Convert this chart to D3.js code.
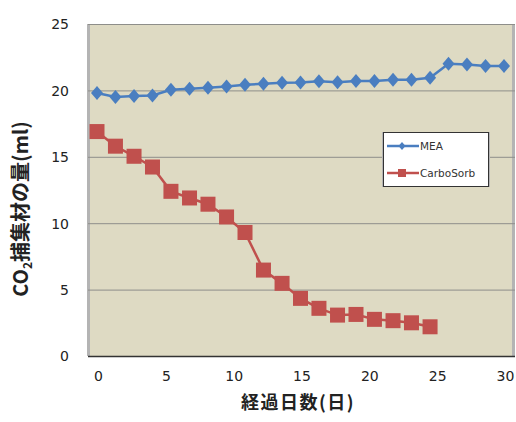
<!DOCTYPE html>
<html><head><meta charset="utf-8">
<script src="https://cdn.jsdelivr.net/npm/d3@7"></script>
<style>
html,body{margin:0;padding:0;background:#fff;}
svg{display:block;}
</style>
</head><body>
<svg id="c" width="516" height="422"></svg>
<script>
// ---- data ----
const meaDays = [0, 1.36, 2.73, 4.09, 5.45, 6.82, 8.18, 9.55, 10.91, 12.27, 13.64, 15.0, 16.36, 17.73, 19.09, 20.45, 21.82, 23.18, 24.55, 25.91, 27.27, 28.64, 30.0];
const meaValues = [19.8, 19.5, 19.57, 19.62, 20.05, 20.13, 20.2, 20.3, 20.43, 20.5, 20.58, 20.6, 20.68, 20.62, 20.7, 20.7, 20.8, 20.8, 20.95, 22.0, 21.95, 21.83, 21.83];
const carboDays = [0, 1.36, 2.73, 4.09, 5.45, 6.82, 8.18, 9.55, 10.91, 12.27, 13.64, 15.0, 16.36, 17.73, 19.09, 20.45, 21.82, 23.18, 24.55];
const carboValues = [16.9, 15.8, 15.04, 14.23, 12.4, 11.9, 11.43, 10.47, 9.3, 6.47, 5.47, 4.34, 3.59, 3.08, 3.13, 2.76, 2.66, 2.5, 2.2];
const xTicks = [0, 5, 10, 15, 20, 25, 30];
const yTicks = [0, 5, 10, 15, 20, 25];
const seriesNames = ["MEA", "CarboSorb"];
const xTitle = "経過日数(日)";

const svg = d3.select("#c");
const plot = {left: 88, right: 515, top: 24, bottom: 356};
const x = d3.scaleLinear().domain([0, 30]).range([97, 504]);
const y = d3.scaleLinear().domain([0, 25]).range([plot.bottom, plot.top]);

// plot background
svg.append("rect").attr("x", plot.left).attr("y", plot.top)
  .attr("width", plot.right - plot.left).attr("height", plot.bottom - plot.top)
  .attr("fill", "#DEDAC3");
svg.append("rect").attr("x", plot.left - 1).attr("y", plot.top).attr("width", 3).attr("height", plot.bottom - plot.top).attr("fill", "#b4b4b4");
svg.append("rect").attr("x", plot.right - 3).attr("y", plot.top).attr("width", 3).attr("height", plot.bottom - plot.top).attr("fill", "#b4b4b4");

// gridlines
svg.append("g").selectAll("line").data(yTicks.filter(d => d > 0)).join("line")
  .attr("x1", plot.left).attr("x2", plot.right)
  .attr("y1", d => y(d) + 0.5).attr("y2", d => y(d) + 0.5)
  .attr("stroke", "#8e8e8a").attr("stroke-width", 1);

// bottom axis line
svg.append("line").attr("x1", plot.left).attr("x2", plot.right)
  .attr("y1", plot.bottom + 0.5).attr("y2", plot.bottom + 0.5)
  .attr("stroke", "#333").attr("stroke-width", 1.5);

// y axis labels
const yAxis = d3.axisLeft(y).tickValues(yTicks).tickSize(0).tickPadding(0).tickFormat(d3.format("d"));
const gy = svg.append("g").attr("transform", "translate(69,0)").call(yAxis);
gy.select(".domain").remove();
gy.selectAll("text").attr("font-family", "DejaVu Sans, sans-serif").attr("font-size", 14).attr("fill", "#222").attr("dy", "0.35em");

// x axis labels
const xAxis = d3.axisBottom(x).tickValues(xTicks).tickSize(0).tickPadding(0).tickFormat(d3.format("d"));
const gx = svg.append("g").attr("transform", "translate(1,371)").call(xAxis);
gx.select(".domain").remove();
gx.selectAll("text").attr("font-family", "DejaVu Sans, sans-serif").attr("font-size", 14).attr("fill", "#222").attr("dy", "0.71em");

// titles
svg.append("text").attr("x", 298).attr("y", 409).attr("text-anchor", "middle")
  .attr("font-family", "Noto Sans CJK JP, sans-serif").attr("font-weight", "bold")
  .attr("font-size", 18).attr("letter-spacing", 1.5).attr("fill", "#222").text(xTitle);

const yt = svg.append("text").attr("transform", "translate(28,209) rotate(-90)").attr("text-anchor", "middle")
  .attr("font-family", "Noto Sans CJK JP, sans-serif").attr("font-weight", "bold")
  .attr("font-size", 20).attr("fill", "#222");
yt.append("tspan").text("CO");
yt.append("tspan").attr("font-size", 12).attr("dy", 4).text("2");
yt.append("tspan").attr("dy", -4).text("捕集材の量(ml)");

// series
const blue = "#4A7EC0", red = "#C0504D";
const mea = meaDays.map((d, i) => [d, meaValues[i]]);
const carbo = carboDays.map((d, i) => [d, carboValues[i]]);
const line = d3.line().x(d => x(d[0])).y(d => y(d[1]));

svg.append("path").datum(carbo).attr("d", line).attr("fill", "none").attr("stroke", red).attr("stroke-width", 2.5);
svg.append("g").selectAll("rect").data(carbo).join("rect")
  .attr("x", d => x(d[0]) - 7.5).attr("y", d => y(d[1]) - 7.5)
  .attr("width", 15).attr("height", 15).attr("fill", red);

svg.append("path").datum(mea).attr("d", line).attr("fill", "none").attr("stroke", blue).attr("stroke-width", 2.5);
const diamond = "M0,-7L6,0L0,7L-6,0Z";
svg.append("g").selectAll("path").data(mea).join("path")
  .attr("transform", d => `translate(${x(d[0])},${y(d[1])})`)
  .attr("d", diamond).attr("fill", blue);

// legend
const lg = svg.append("g");
lg.append("rect").attr("x", 382).attr("y", 132).attr("width", 3).attr("height", 55).attr("fill", "#b4b4b4");
lg.append("rect").attr("x", 487).attr("y", 132).attr("width", 3).attr("height", 55).attr("fill", "#b4b4b4");
lg.append("rect").attr("x", 383.5).attr("y", 132.5).attr("width", 105).attr("height", 54)
  .attr("fill", "#fff").attr("stroke", "#333").attr("stroke-width", 1);
const legendRows = [{name: seriesNames[0], color: blue, cy: 146, shape: "d"}, {name: seriesNames[1], color: red, cy: 173, shape: "s"}];
legendRows.forEach(r => {
  lg.append("line").attr("x1", 387).attr("x2", 419).attr("y1", r.cy).attr("y2", r.cy).attr("stroke", r.color).attr("stroke-width", 2.5);
  if (r.shape === "d") {
    lg.append("path").attr("transform", `translate(402,${r.cy})`).attr("d", "M0,-4L3.5,0L0,4L-3.5,0Z").attr("fill", r.color);
  } else {
    lg.append("rect").attr("x", 398).attr("y", r.cy - 4).attr("width", 8).attr("height", 8).attr("fill", r.color);
  }
  lg.append("text").attr("x", 420).attr("y", r.cy).attr("dy", "0.35em")
    .attr("font-family", "DejaVu Sans, sans-serif").attr("font-size", 10.5).attr("fill", "#333").text(r.name);
});
</script>
</body></html>
